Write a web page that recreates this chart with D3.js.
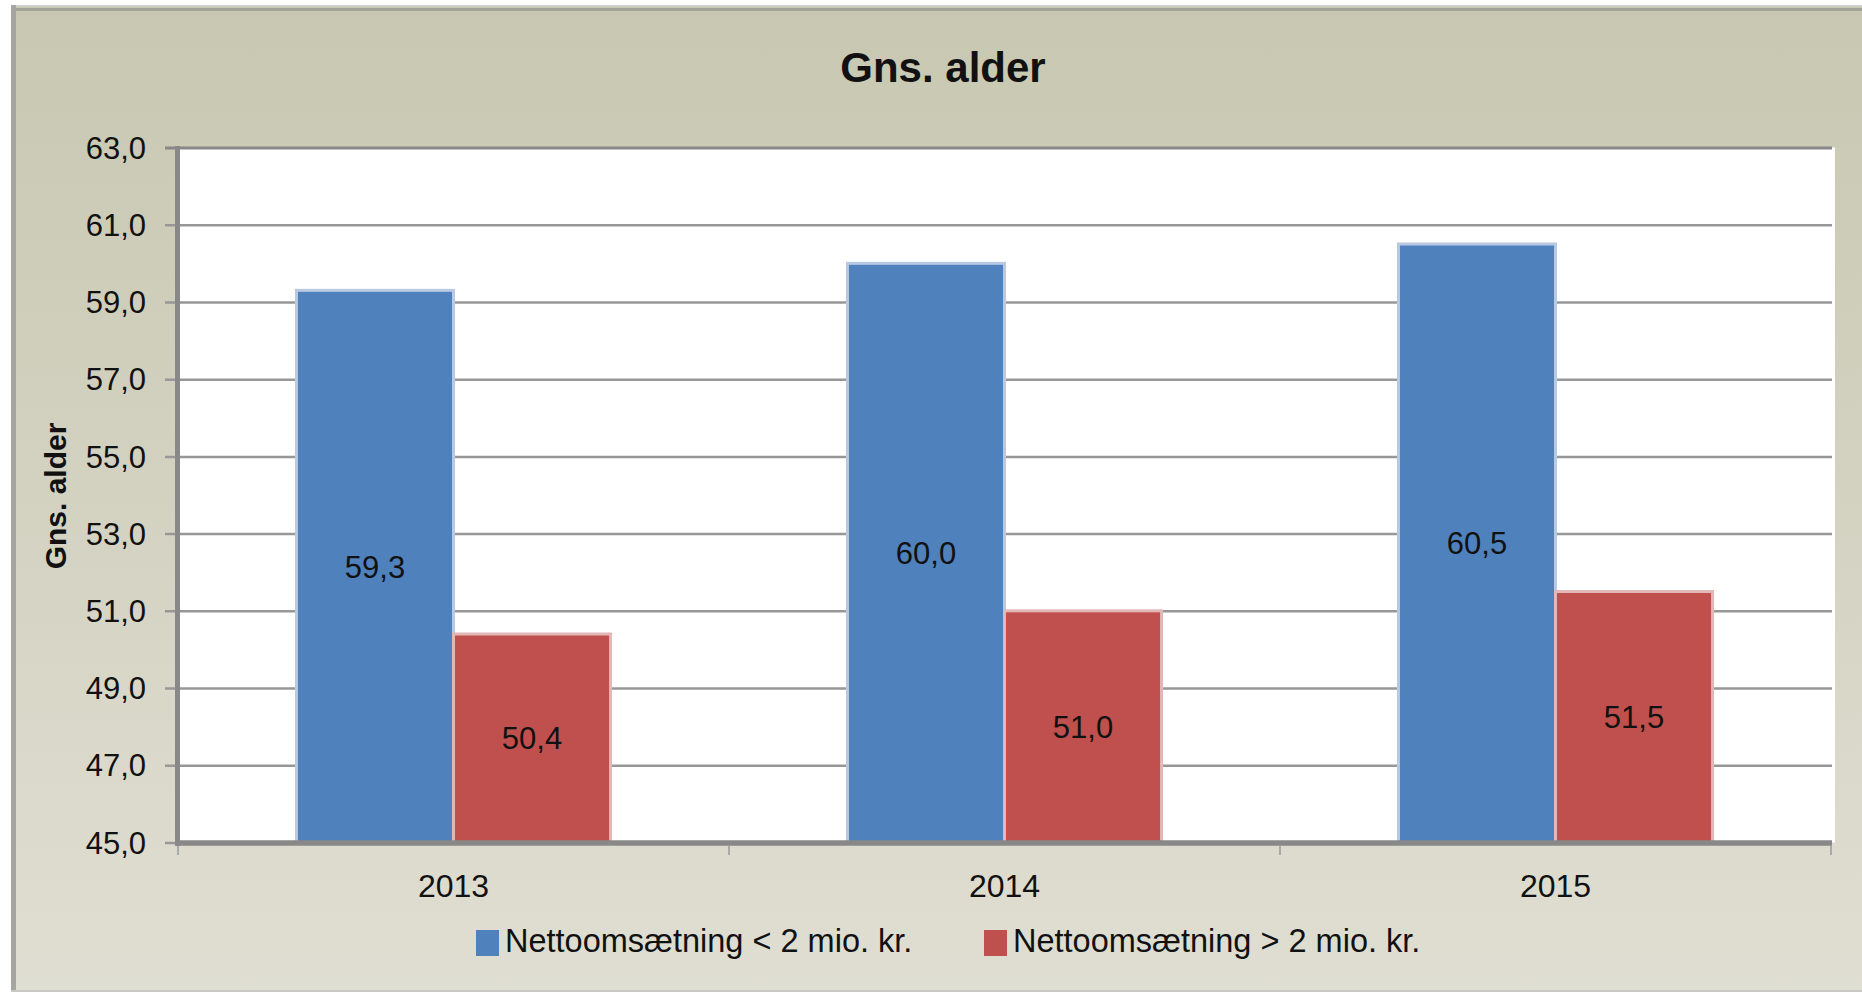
<!DOCTYPE html>
<html>
<head>
<meta charset="utf-8">
<script src="https://cdn.jsdelivr.net/npm/d3@7/dist/d3.min.js"></script>
<style>
  html, body { margin: 0; padding: 0; background: #ffffff; }
  svg { display: block; }
  text { font-family: "Liberation Sans", Arial, sans-serif; fill: #111; }
</style>
</head>
<body>
<svg id="chart" width="1862" height="992"></svg>
<script>
// ---- data ----
const categories = ["2013", "2014", "2015"];
const seriesNames = ["Nettoomsætning < 2 mio. kr.", "Nettoomsætning > 2 mio. kr."];
const seriesColors = ["#4f81bd", "#c0504d"];
const seriesHalo = ["#b9c9e1", "#e3b7b6"];
const smallTurnover = [59.3, 60.0, 60.5];
const largeTurnover = [50.4, 51.0, 51.5];
const yTicks = [45, 47, 49, 51, 53, 55, 57, 59, 61, 63];
const chartTitle = "Gns. alder";
const yAxisTitle = "Gns. alder";

const seriesValues = [smallTurnover, largeTurnover];
const fmt = v => d3.format(".1f")(v).replace(".", ",");

const svg = d3.select("#chart");

// ---- background ----
const defs = svg.append("defs");
const grad = defs.append("linearGradient").attr("id", "bg").attr("x1", 0).attr("y1", 0).attr("x2", 0).attr("y2", 1);
grad.append("stop").attr("offset", "0%").attr("stop-color", "#c8c7b1");
grad.append("stop").attr("offset", "100%").attr("stop-color", "#dfded2");

svg.append("rect").attr("x", 11).attr("y", 5).attr("width", 1862 - 11).attr("height", 992 - 5).attr("fill", "url(#bg)");
svg.append("line").attr("x1", 11).attr("x2", 1862).attr("y1", 6).attr("y2", 6).attr("stroke", "#cfcfcb").attr("stroke-width", 2);
svg.append("line").attr("x1", 11).attr("x2", 1862).attr("y1", 9.5).attr("y2", 9.5).attr("stroke", "#a4a49b").attr("stroke-width", 3);
svg.append("line").attr("x1", 13.5).attr("x2", 13.5).attr("y1", 5).attr("y2", 992).attr("stroke", "#a6a69f").attr("stroke-width", 5);
svg.append("line").attr("x1", 11).attr("x2", 1862).attr("y1", 991).attr("y2", 991).attr("stroke", "#c9c9c4").attr("stroke-width", 2);

// ---- scales ----
const plotLeft = 178, plotRight = 1835, plotTop = 147.5, plotBottom = 842.5;
const catRight = 1831;
const y = d3.scaleLinear().domain([45, 63]).range([plotBottom, plotTop]);
const x0 = d3.scaleBand().domain(categories).range([plotLeft, catRight]).paddingInner(0.43).paddingOuter(0.215);
const x1 = d3.scaleBand().domain(d3.range(seriesNames.length)).range([0, x0.bandwidth()]);
const step = x0.step();

// plot area
svg.append("rect").attr("x", plotLeft).attr("y", plotTop).attr("width", plotRight - plotLeft).attr("height", plotBottom - plotTop).attr("fill", "#ffffff");

// gridlines + left ticks
const yAxis = d3.axisLeft(y).tickValues(yTicks).tickSize(-(plotRight - 3 - plotLeft)).tickPadding(0).tickFormat("");
const gGrid = svg.append("g").attr("transform", `translate(${plotLeft},0)`).call(yAxis);
gGrid.select(".domain").remove();
gGrid.selectAll(".tick line")
  .attr("x1", -13)
  .attr("stroke", d => d === 63 ? "#888888" : "#979797")
  .attr("stroke-width", d => d === 63 ? 3 : 2.5);

// y tick labels
svg.append("g").selectAll("text").data(yTicks).join("text")
  .attr("x", 146).attr("y", d => y(d)).attr("dy", "0.36em")
  .attr("text-anchor", "end").attr("font-size", 31)
  .text(d => fmt(d));

// bars
const groups = svg.append("g").selectAll("g").data(categories).join("g")
  .attr("transform", d => `translate(${x0(d)},0)`);
groups.selectAll("rect").data((d, i) => seriesValues.map((s, k) => ({k, v: s[i]}))).join("rect")
  .attr("x", d => x1(d.k)).attr("width", x1.bandwidth())
  .attr("y", d => y(d.v)).attr("height", d => y(45) - y(d.v))
  .attr("fill", d => seriesColors[d.k])
  .attr("stroke", d => seriesHalo[d.k]).attr("stroke-width", 3);

// data labels
groups.selectAll("text").data((d, i) => seriesValues.map((s, k) => ({k, v: s[i]}))).join("text")
  .attr("x", d => x1(d.k) + x1.bandwidth() / 2)
  .attr("y", d => (y(d.v) + y(45)) / 2).attr("dy", "0.36em")
  .attr("text-anchor", "middle").attr("font-size", 31)
  .text(d => fmt(d.v));

// axes lines
svg.append("line").attr("x1", plotLeft).attr("x2", plotRight - 3).attr("y1", 843).attr("y2", 843).attr("stroke", "#888888").attr("stroke-width", 5.5);
svg.append("line").attr("x1", 177.5).attr("x2", 177.5).attr("y1", 146).attr("y2", 846).attr("stroke", "#888888").attr("stroke-width", 5);

// bottom ticks at category boundaries
const boundaries = d3.range(categories.length + 1).map(i => plotLeft + i * step);
svg.append("g").selectAll("line").data(boundaries).join("line")
  .attr("x1", d => Math.min(d, plotRight - 3)).attr("x2", d => Math.min(d, plotRight - 3))
  .attr("y1", 846).attr("y2", 855).attr("stroke", "#a9a9a9").attr("stroke-width", 2);

// category labels
svg.append("g").selectAll("text").data(categories).join("text")
  .attr("x", d => x0(d) + x0.bandwidth() / 2).attr("y", 897)
  .attr("text-anchor", "middle").attr("font-size", 32)
  .text(d => d);

// title
svg.append("text").attr("x", 943).attr("y", 82).attr("text-anchor", "middle")
  .attr("font-size", 42).attr("font-weight", "bold").text(chartTitle);

// y axis title
svg.append("text").attr("transform", "translate(66,496) rotate(-90)")
  .attr("text-anchor", "middle").attr("font-size", 30).attr("font-weight", "bold").text(yAxisTitle);

// legend
const legendX = [476, 984];
const lg = svg.append("g").selectAll("g").data(seriesNames).join("g")
  .attr("transform", (d, i) => `translate(${legendX[i]},930)`);
lg.append("rect").attr("width", 23).attr("height", 26).attr("fill", (d, i) => seriesColors[i]);
lg.append("text").attr("x", 29).attr("y", 22).attr("font-size", 32.5).text(d => d);
</script>
</body>
</html>
